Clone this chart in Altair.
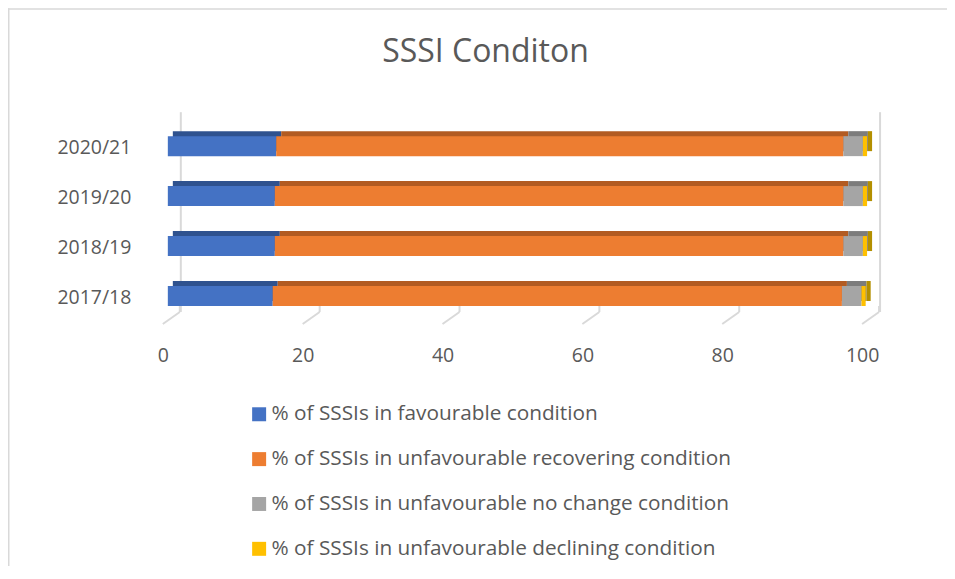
import altair as alt
import pandas as pd

# ---- data ----
title_text = "SSSI Conditon"
years = ["2017/18", "2018/19", "2019/20", "2020/21"]
series = [
    "% of SSSIs in favourable condition",
    "% of SSSIs in unfavourable recovering condition",
    "% of SSSIs in unfavourable no change condition",
    "% of SSSIs in unfavourable declining condition",
]
favourable = [15.0, 15.3, 15.3, 15.5]
recovering = [81.4, 81.3, 81.3, 81.1]
no_change = [2.8, 2.8, 2.8, 2.8]
declining = [0.6, 0.6, 0.6, 0.6]
tick_values = [0, 20, 40, 60, 80, 100]

# ---- styles ----
front_colors = ["#4472C4", "#ED7D31", "#A5A5A5", "#FFC000"]
side_colors = ["#2F528F", "#B25B22", "#7C7C7C", "#B38F00"]
text_color = "#595959"
line_color = "#D9D9D9"
FONT = "Open Sans"

rows = []
for i, yr in enumerate(years):
    for j, vals in enumerate([favourable, recovering, no_change, declining]):
        rows.append({"year": yr, "series": series[j], "value": vals[i], "order": j})
df = pd.DataFrame(rows)
ticks_df = pd.DataFrame({"v": tick_values})
walls_df = pd.DataFrame({"v": [tick_values[0], tick_values[-1]]})
one_df = pd.DataFrame({"t": [title_text]})

x_scale = alt.Scale(domain=[0, 100], nice=False)
y_sort = years[::-1]

x_axis = alt.Axis(
    title=None, values=tick_values, domain=False, ticks=False, tickSize=0, grid=False,
    labelPadding=26, labelOffset=-5, labelFlush=False, labelFontSize=19.5, labelFont=FONT,
    labelColor=text_color,
)
y_axis = alt.Axis(
    title=None, domain=False, ticks=False, tickSize=0, grid=False,
    labelPadding=37, labelOffset=2, labelFontSize=19.5, labelFont=FONT, labelColor=text_color,
)

back = alt.Chart(df).mark_bar(size=20, xOffset=5, yOffset=-5).encode(
    x=alt.X("value:Q", stack="zero", scale=x_scale, axis=x_axis),
    y=alt.Y("year:N", sort=y_sort, axis=y_axis),
    color=alt.Color("series:N", scale=alt.Scale(domain=series, range=side_colors), legend=None),
    order=alt.Order("order:Q"),
)

front = alt.Chart(df).mark_bar(size=20).encode(
    x=alt.X("value:Q", stack="zero", scale=x_scale, axis=x_axis),
    y=alt.Y("year:N", sort=y_sort, axis=y_axis),
    color=alt.Color(
        "series:N",
        scale=alt.Scale(domain=series, range=front_colors),
        legend=alt.Legend(
            title=None, orient="none", legendX=81, legendY=283, direction="vertical",
            symbolType="square", symbolSize=196, symbolStrokeWidth=0,
            labelFontSize=20.8, labelFont=FONT, labelColor=text_color, labelLimit=700,
            rowPadding=22.9, labelOffset=2, padding=0,
        ),
    ),
    order=alt.Order("order:Q"),
)

floor_v = alt.Chart(ticks_df).mark_rule(color=line_color, strokeWidth=2, xOffset=12).encode(
    x=alt.X("v:Q", scale=x_scale, axis=x_axis), y=alt.value(185), y2=alt.value(191)
)
floor_d = alt.Chart(ticks_df).mark_rule(
    color=line_color, strokeWidth=2, xOffset=12, x2Offset=-5
).encode(
    x=alt.X("v:Q", scale=x_scale, axis=x_axis), x2="v:Q", y=alt.value(191), y2=alt.value(203)
)
walls = alt.Chart(walls_df).mark_rule(color=line_color, strokeWidth=2, xOffset=13).encode(
    x=alt.X("v:Q", scale=x_scale, axis=x_axis), y=alt.value(-9), y2=alt.value(191)
)

border_top = alt.Chart(one_df).mark_rule(color=line_color, strokeWidth=1.5).encode(
    x=alt.value(-160), x2=alt.value(790), y=alt.value(-112.25)
)
border_left = alt.Chart(one_df).mark_rule(color=line_color, strokeWidth=1.5).encode(
    x=alt.value(-159.25), y=alt.value(-113), y2=alt.value(460)
)

title = alt.Chart(one_df).mark_text(
    font=FONT, fontSize=32, color=text_color, align="center", baseline="alphabetic"
).encode(x=alt.value(318), y=alt.value(-59), text="t:N")

chart = (
    alt.layer(border_top, border_left, walls, floor_v, floor_d, back, front, title)
    .resolve_scale(color="independent")
    .properties(
        width=700, height=200,
        autosize=alt.AutoSizeParams(type="none"),
        padding={"left": 160, "top": 113, "right": 80, "bottom": 245},
        background="white",
    )
    .configure_view(stroke=None)
)

chart.save("out.html", embed_options={"renderer": "svg", "actions": False})
